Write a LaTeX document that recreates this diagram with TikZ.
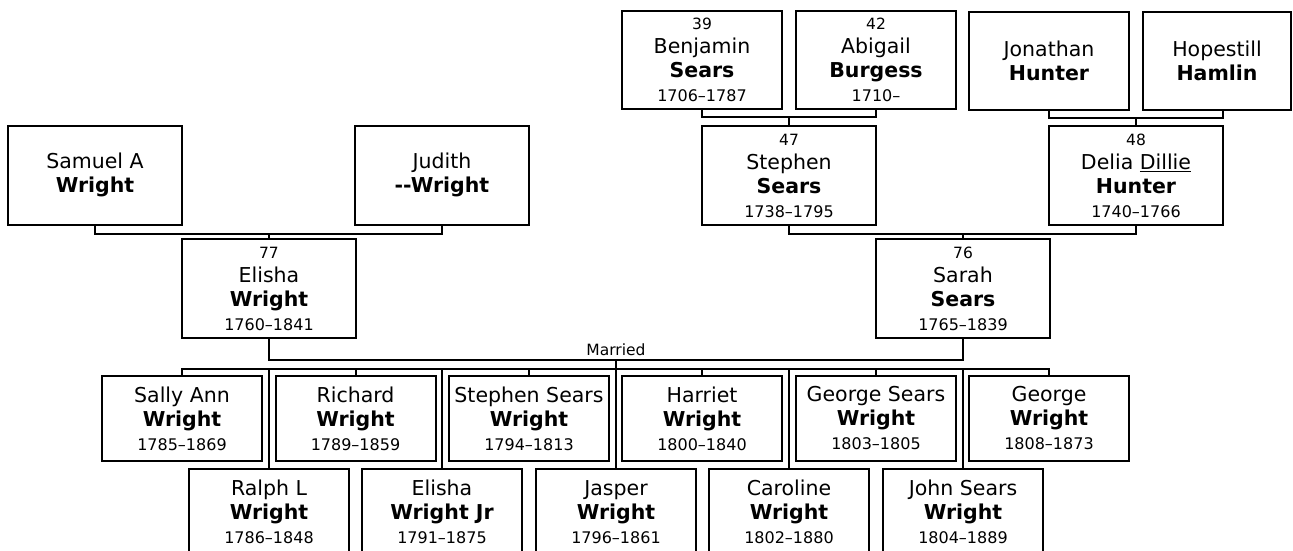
\documentclass[tikz,border=0pt]{standalone}
\usepackage{fontspec}
\setmainfont{DejaVu Sans}
\newcommand\fname{\fontsize{20.5}{24}\selectfont}
\newcommand\fnum{\fontsize{15.5}{18}\selectfont}
\newcommand\fdate{\fontsize{16}{19}\selectfont}
\begin{document}
\begin{tikzpicture}[x=1pt,y=-1pt,
  box/.style={draw, line width=2pt, minimum width=160, minimum height=85, inner sep=0pt, align=center, font=\fname},
  wide/.style={box, minimum width=173.5, minimum height=99},
  top/.style={box, minimum height=98},
  kid/.style={box, minimum height=85},
  conn/.style={line width=2pt, line cap=rect}]
\useasboundingbox (0,0) rectangle (1293,551);
\clip (0,0) rectangle (1293,551);
% top row
\node[top] (ben) at (702,60) {{\fnum 39}\\Benjamin\\\textbf{Sears}\\{\fdate 1706–1787}};
\node[top] (abi) at (876,60) {{\fnum 42}\\Abigail\\\textbf{Burgess}\\{\fdate 1710–}};
\node[top] (jon) at (1049,61) {Jonathan\\\textbf{Hunter}};
\node[top, minimum width=148] (hop) at (1217,61) {Hopestill\\\textbf{Hamlin}};
% second row
\node[wide] (sam) at (95,175) {Samuel A\\\textbf{Wright}};
\node[wide] (jud) at (442,175) {Judith\\\textbf{-{}-Wright}};
\node[wide] (ste) at (789,175.5) {{\fnum 47}\\Stephen\\\textbf{Sears}\\{\fdate 1738–1795}};
\node[wide] (del) at (1136,175.5) {{\fnum 48}\\Delia \underline{Dillie}\\\textbf{Hunter}\\{\fdate 1740–1766}};
% third row
\node[wide] (eli) at (269,288.5) {{\fnum 77}\\Elisha\\\textbf{Wright}\\{\fdate 1760–1841}};
\node[wide] (sar) at (963,288.5) {{\fnum 76}\\Sarah\\\textbf{Sears}\\{\fdate 1765–1839}};
% children row 1
\node[kid] (c1) at (182,418.5) {Sally Ann\\\textbf{Wright}\\{\fdate 1785–1869}};
\node[kid] (c2) at (355.5,418.5) {Richard\\\textbf{Wright}\\{\fdate 1789–1859}};
\node[kid] (c3) at (529,418.5) {Stephen Sears\\\textbf{Wright}\\{\fdate 1794–1813}};
\node[kid] (c4) at (702,418.5) {Harriet\\\textbf{Wright}\\{\fdate 1800–1840}};
\node[kid] (c5) at (876,418.5) {George Sears\\\textbf{Wright}\\{\fdate 1803–1805}};
\node[kid] (c6) at (1049,418.5) {George\\\textbf{Wright}\\{\fdate 1808–1873}};
% children row 2
\node[kid, minimum height=86] (d1) at (269,512) {Ralph L\\\textbf{Wright}\\{\fdate 1786–1848}};
\node[kid, minimum height=86] (d2) at (442,512) {Elisha\\\textbf{Wright Jr}\\{\fdate 1791–1875}};
\node[kid, minimum height=86] (d3) at (616,512) {Jasper\\\textbf{Wright}\\{\fdate 1796–1861}};
\node[kid, minimum height=86] (d4) at (789,512) {Caroline\\\textbf{Wright}\\{\fdate 1802–1880}};
\node[kid, minimum height=86] (d5) at (963,512) {John Sears\\\textbf{Wright}\\{\fdate 1804–1889}};
% connectors: top couples
\draw[conn] (ben.south) -- ++(0,7) coordinate (j1) -| (abi.south);
\draw[conn] (j1 -| ste.north) -- (ste.north);
\draw[conn] (jon.south) -- ++(0,7) coordinate (j2) -| ([xshift=6]hop.south);
\draw[conn] (j2 -| del.north) -- (del.north);
\draw[conn] (sam.south) -- ++(0,8) coordinate (j3) -| (jud.south);
\draw[conn] (j3 -| eli.north) -- (eli.north);
\draw[conn] (ste.south) -- ++(0,8) coordinate (j4) -| (del.south);
\draw[conn] (j4 -| sar.north) -- (sar.north);
% marriage
\node[font=\fnum, inner sep=0pt] (mar) at (616,350) {Married};
\draw[conn] (eli.south) -- ++(0,21) coordinate (m1) -| (sar.south);
\draw[conn] (m1 -| mar.south) -- ++(0,9) coordinate (bus);
\draw[conn] (c1.north) -- (c1.north |- bus) -- (c6.north |- bus) -- (c6.north);
\foreach \n in {c2,c3,c4,c5,d1,d2,d3,d4,d5}
  \draw[conn] (\n.north) -- (\n.north |- bus);
\end{tikzpicture}
\end{document}
